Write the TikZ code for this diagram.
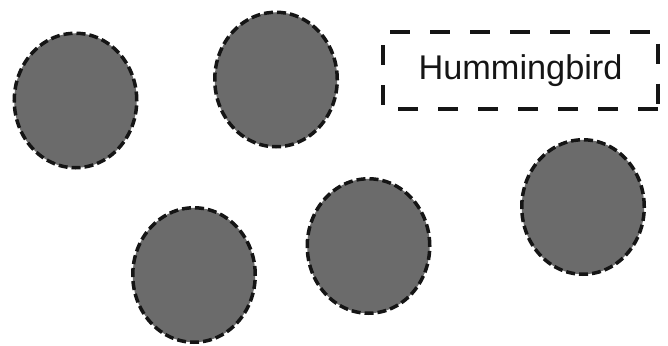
\documentclass[tikz,border=0pt]{standalone}
\usepackage{fontspec}
\setmainfont{Liberation Sans}
\usetikzlibrary{shapes.geometric}
\definecolor{blobfill}{HTML}{6B6B6B}
\definecolor{inkline}{HTML}{151515}
\tikzset{
  blob/.style={ellipse, draw=inkline, fill=blobfill, line width=3.5pt,
    dash pattern=on 9pt off 4pt, minimum width=122.5pt, minimum height=134.5pt, inner sep=0pt},
  labelbox/.style={rectangle, minimum width=275pt, minimum height=77pt, inner sep=0pt,
    text=inkline, font=\fontsize{34.3}{40}\selectfont},
  boxline/.style={draw=inkline, line width=3.5pt, dash pattern=on 20pt off 20pt}
}
\begin{document}
\begin{tikzpicture}[x=1pt,y=1pt]
\useasboundingbox (0,0) rectangle (668,-345);
\node[blob] (e1) at (75.5,-100.5) {};
\node[blob] (e2) at (276,-79.5) {};
\node[blob] (e3) at (194,-275) {};
\node[blob] (e4) at (368.5,-246) {};
\node[blob] (e5) at (583,-207) {};
\node[labelbox] (hb) at (520.5,-70.5) {Hummingbird};
\draw[boxline] (hb.south east) -- (hb.south west) -- (hb.north west) -- (hb.north east) -- cycle;
\end{tikzpicture}
\end{document}
